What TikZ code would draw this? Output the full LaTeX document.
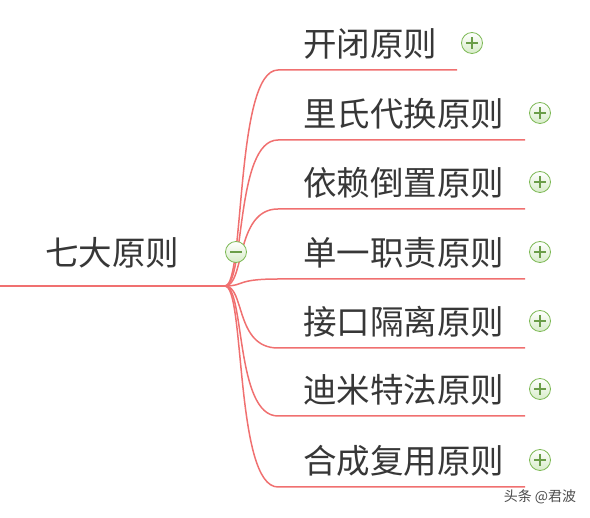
\documentclass[tikz,border=0pt]{standalone}
\usepackage{fontspec}
\newfontfamily\cjk{Noto Sans CJK SC}
\definecolor{branchred}{RGB}{240,112,112}
\definecolor{ink}{RGB}{55,55,55}
\definecolor{knobgreen}{RGB}{125,185,85}
\definecolor{knobfill}{RGB}{215,236,200}
\tikzset{
  topic/.style={font=\cjk\fontsize{33.5}{33.5}\selectfont, text=ink, anchor=west, inner sep=0pt},
  twig/.style={draw=branchred, line width=1.5pt},
  knob/.style={circle, draw=knobgreen, top color=white, bottom color=knobfill,
    minimum size=21pt, inner sep=0pt, line width=0.8pt},
  knobmark/.style={draw=knobgreen!85!black, line width=1.2pt},
  stamp/.style={font=\cjk\fontsize{14}{14}\selectfont, text=black!70, inner sep=0pt},
}
\begin{document}
\begin{tikzpicture}[x=1pt,y=-1pt]
  \useasboundingbox (0,0) rectangle (590,518);
  % root
  \coordinate (start) at (0,286);
  \coordinate (hub) at (225,286);
  \node[topic] (root) at (45,253) {七大原则};
  \draw[twig] (start) -- (hub);
  % branches
  \foreach \txt/\y/\x [count=\i] in {开闭原则/70/457, 里氏代换原则/140/525,
      依赖倒置原则/209/525, 单一职责原则/279/525, 接口隔离原则/348/525,
      迪米特法原则/416/525, 合成复用原则/487/525}{
    \node[topic] (t\i) at (303,\y-26) {\txt};
    \coordinate (e\i) at (\x,\y);
    \draw[twig] (hub) .. controls (245,286) and (235,\y) .. (278,\y) -- (e\i);
    \node[knob] (k\i) at (\x+15,\y-27) {};
    \draw[knobmark] ([xshift=-6pt]k\i.center) -- ([xshift=6pt]k\i.center);
    \draw[knobmark] ([yshift=-6pt]k\i.center) -- ([yshift=6pt]k\i.center);
  }
  \node[knob] (fold) at (236,252) {};
  \draw[knobmark] ([xshift=-6pt]fold.center) -- ([xshift=6pt]fold.center);
  % watermark
  \node[stamp] (credit) at (540,497) {头条 @君波};
\end{tikzpicture}
\end{document}
